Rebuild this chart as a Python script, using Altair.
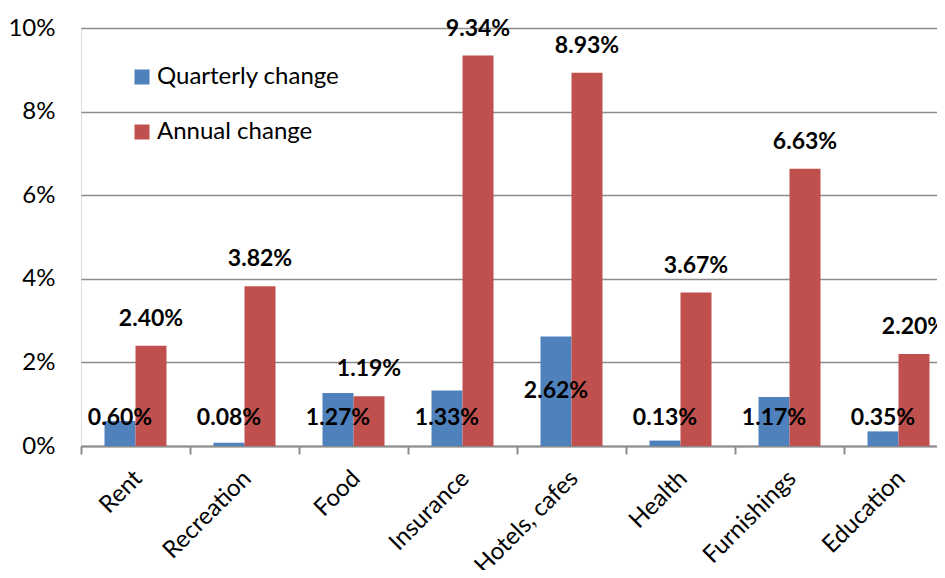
import altair as alt
import pandas as pd

categories = ["Rent", "Recreation", "Food", "Insurance", "Hotels, cafes", "Health", "Furnishings", "Education"]
quarterly = [0.60, 0.08, 1.27, 1.33, 2.62, 0.13, 1.17, 0.35]
annual = [2.40, 3.82, 1.19, 9.34, 8.93, 3.67, 6.63, 2.20]
series_names = ["Quarterly change", "Annual change"]
colors = ["#4F81BD", "#C0504D"]
y_ticks = [0, 2, 4, 6, 8, 10]

rows = []
for c, q, a in zip(categories, quarterly, annual):
    rows.append({"category": c, "series": series_names[0], "value": q})
    rows.append({"category": c, "series": series_names[1], "value": a})
df = pd.DataFrame(rows)

FONT = "Lato"

x_enc = alt.X("category:N", sort=categories,
              scale=alt.Scale(paddingInner=0, paddingOuter=0, range=[0, 872]),
              axis=alt.Axis(title=None, labelAngle=-45, labelFont=FONT, labelFontSize=24,
                            labelColor="#000000", tickBand="extent", ticks=True, tickSize=8,
                            tickColor="#8c8c8c", tickWidth=2, domainColor="#8c8c8c",
                            domainWidth=2, grid=False, labelPadding=12, labelOffset=-6,
                            labelLimit=0)),
xoff_enc = alt.XOffset("series:N", sort=series_names,
                       scale=alt.Scale(domain=series_names, paddingInner=0, paddingOuter=0.758))
y_scale = alt.Scale(domain=[0, 10], nice=False, zero=True)

bars = alt.Chart(df).mark_bar(stroke=None).encode(
    x=x_enc[0],
    xOffset=xoff_enc,
    y=alt.Y("value:Q", scale=y_scale,
            axis=alt.Axis(title=None, values=y_ticks, labelExpr="datum.value + '%'",
                          labelFont=FONT, labelFontSize=24, labelColor="#000000",
                          ticks=False, tickSize=0, labelPadding=26, domain=False,
                          grid=True, gridColor="#8c8c8c", gridWidth=1.5)),
    color=alt.Color("series:N", sort=series_names,
                    scale=alt.Scale(domain=series_names, range=colors),
                    legend=alt.Legend(title=None, orient="none", legendX=49, legendY=37,
                                      symbolType="square", symbolSize=225, symbolStrokeWidth=0,
                                      labelFont=FONT, labelFontSize=24, labelColor="#000000",
                                      labelLimit=0, rowPadding=31, labelOffset=3, padding=0)),
)

annual_text = alt.Chart(df).transform_filter(
    alt.datum.series == series_names[1]
).transform_calculate(
    label="format(datum.value, '.2f') + '%'"
).mark_text(font=FONT, fontSize=23, fontWeight="bold", color="#000000",
            baseline="middle", dy=-27).encode(
    x=alt.X("category:N", sort=categories),
    xOffset=alt.XOffset("series:N", sort=series_names),
    y=alt.Y("value:Q", scale=y_scale),
    text="label:N",
)

quarterly_text = alt.Chart(df).transform_filter(
    alt.datum.series == series_names[0]
).transform_calculate(
    ypos="max(datum.value / 2, 0.67)",
    label="format(datum.value, '.2f') + '%'",
).mark_text(font=FONT, fontSize=23, fontWeight="bold", color="#000000",
            baseline="middle").encode(
    x=alt.X("category:N", sort=categories),
    xOffset=alt.XOffset("series:N", sort=series_names),
    y=alt.Y("ypos:Q", scale=y_scale),
    text="label:N",
)

chart = alt.layer(bars, annual_text, quarterly_text).properties(
    width=856, height=418,
    autosize=alt.AutoSizeParams(type="none"),
    padding={"left": 73, "top": 20, "right": 0, "bottom": 124},
).configure_view(stroke=None).configure(background="white")

chart.save("out.html", embed_options={"renderer": "svg", "actions": False})
